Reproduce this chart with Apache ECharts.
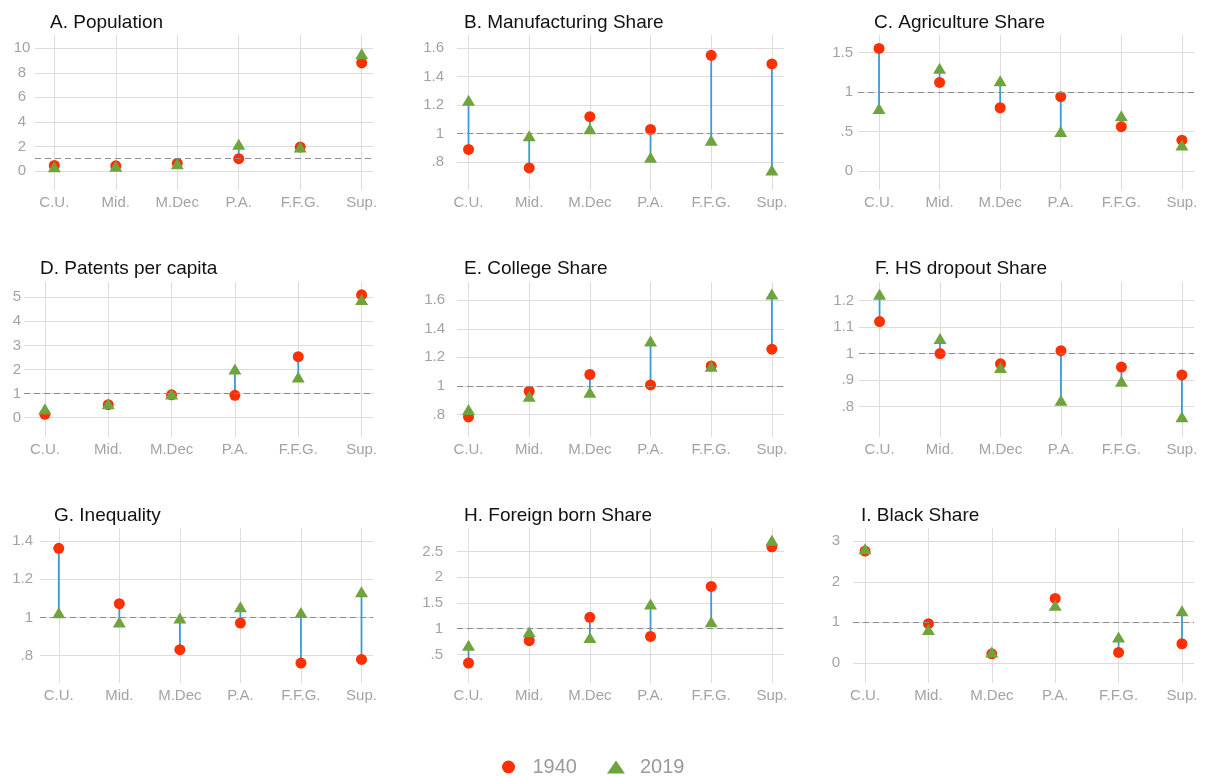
<!DOCTYPE html>
<html>
<head>
<meta charset="utf-8">
<script src="https://cdn.jsdelivr.net/npm/echarts@6/dist/echarts.min.js"></script>
<style>
  html, body { margin: 0; padding: 0; background: #ffffff; }
  #chart { width: 1205px; height: 776px; }
</style>
</head>
<body>
<div id="chart"></div>
<script>
// Regions (x categories) shared by every panel
const categories = ['C.U.', 'Mid.', 'M.Dec', 'P.A.', 'F.F.G.', 'Sup.'];
const seriesNames = ['1940', '2019'];

// Panel titles
const panelTitles = [
  'A. Population', 'B. Manufacturing Share', 'C. Agriculture Share',
  'D. Patents per capita', 'E. College Share', 'F. HS dropout Share',
  'G. Inequality', 'H. Foreign born Share', 'I. Black Share'
];

// Relative values by region, 1940 and 2019
const population1940 = [0.45, 0.42, 0.62, 1.00, 1.95, 8.80];
const population2019 = [0.35, 0.38, 0.58, 2.17, 1.95, 9.55];
const manufacturing1940 = [0.89, 0.76, 1.12, 1.03, 1.55, 1.49];
const manufacturing2019 = [1.235, 0.985, 1.035, 0.835, 0.955, 0.745];
const agriculture1940 = [1.55, 1.12, 0.80, 0.94, 0.56, 0.39];
const agriculture2019 = [0.79, 1.30, 1.14, 0.50, 0.70, 0.33];
const patents1940 = [0.14, 0.54, 0.95, 0.93, 2.53, 5.10];
const patents2019 = [0.37, 0.58, 0.98, 2.02, 1.69, 4.90];
const college1940 = [0.783, 0.963, 1.08, 1.007, 1.14, 1.257];
const college2019 = [0.835, 0.928, 0.956, 1.315, 1.138, 1.643];
const dropout1940 = [1.121, 1.00, 0.961, 1.011, 0.949, 0.919];
const dropout2019 = [1.225, 1.057, 0.947, 0.823, 0.895, 0.761];
const inequality1940 = [1.363, 1.072, 0.83, 0.97, 0.76, 0.779];
const inequality2019 = [1.025, 0.976, 0.997, 1.056, 1.026, 1.135];
const foreignBorn1940 = [0.334, 0.767, 1.22, 0.85, 1.82, 2.59];
const foreignBorn2019 = [0.68, 0.94, 0.83, 1.48, 1.136, 2.715];
const black1940 = [2.76, 0.965, 0.22, 1.59, 0.255, 0.47];
const black2019 = [2.82, 0.82, 0.265, 1.42, 0.636, 1.287];

// Y tick labels for each panel
const populationTicks = [0, 2, 4, 6, 8, 10];
const manufacturingTicks = [0.8, 1, 1.2, 1.4, 1.6];
const agricultureTicks = [0, 0.5, 1, 1.5];
const patentsTicks = [0, 1, 2, 3, 4, 5];
const collegeTicks = [0.8, 1, 1.2, 1.4, 1.6];
const dropoutTicks = [0.8, 0.9, 1, 1.1, 1.2];
const inequalityTicks = [0.8, 1, 1.2, 1.4];
const foreignBornTicks = [0.5, 1, 1.5, 2, 2.5];
const blackTicks = [0, 1, 2, 3];

// Reference level
const parityLevel = 1;

const panelData = [
  [population1940, population2019, populationTicks],
  [manufacturing1940, manufacturing2019, manufacturingTicks],
  [agriculture1940, agriculture2019, agricultureTicks],
  [patents1940, patents2019, patentsTicks],
  [college1940, college2019, collegeTicks],
  [dropout1940, dropout2019, dropoutTicks],
  [inequality1940, inequality2019, inequalityTicks],
  [foreignBorn1940, foreignBorn2019, foreignBornTicks],
  [black1940, black2019, blackTicks]
];

// Plot-region geometry and axis ranges for each panel
const layout = [
  { left: 35,  top: 35,  width: 338, xr: [-0.314, 5.184], yr: [-1.55, 11.08], lm: 13, la: 'center', tl: 45 },
  { left: 457, top: 35,  width: 327, xr: [-0.19, 5.2],    yr: [0.605, 1.693], lm: 13, la: 'right',  tl: 459 },
  { left: 858, top: 35,  width: 336, xr: [-0.347, 5.2],   yr: [-0.24, 1.72],  lm: 5,  la: 'right',  tl: 869 },
  { left: 24,  top: 282, width: 349, xr: [-0.33, 5.18],   yr: [-0.8, 5.63],   lm: 3,  la: 'right',  tl: 35 },
  { left: 457, top: 282, width: 327, xr: [-0.19, 5.2],    yr: [0.643, 1.727], lm: 12, la: 'right',  tl: 459 },
  { left: 859, top: 282, width: 335, xr: [-0.34, 5.2],    yr: [0.684, 1.271], lm: 5,  la: 'right',  tl: 870 },
  { left: 40,  top: 528, width: 333, xr: [-0.31, 5.19],   yr: [0.655, 1.47],  lm: 7,  la: 'right',  tl: 49 },
  { left: 457, top: 528, width: 327, xr: [-0.19, 5.2],    yr: [-0.054, 2.955], lm: 14, la: 'right', tl: 459 },
  { left: 853, top: 528, width: 341, xr: [-0.19, 5.19],   yr: [-0.5, 3.33],   lm: 13, la: 'right',  tl: 856 }
];
const plotHeight = 155;
const titleTops = { 35: 8, 282: 254.5, 528: 501.5 };

const FONT = '"Liberation Sans", Arial, Helvetica, sans-serif';
const RED = '#ff3000';
const GREEN = '#6fa33e';
const BLUE = '#3a9bd8';
const GRID = '#dcdcdc';
const LABEL = '#a3a3a3';

const categoryIndex = categories.map((_, i) => i);

// Stata-style number labels: drop the leading zero
function fmtNum(v) {
  const s = String(Math.round(v * 1000) / 1000);
  return s.replace(/^0\./, '.').replace(/^-0\./, '-.');
}

const grids = [], xAxes = [], yAxes = [], titles = [], series = [];

layout.forEach((g, p) => {
  const [vOld, vNew, ticks] = panelData[p];
  grids.push({ left: g.left, top: g.top, width: g.width, height: plotHeight, containLabel: false });
  titles.push({
    text: panelTitles[p], left: g.tl, top: titleTops[g.top],
    textStyle: { fontFamily: FONT, fontSize: 19, fontWeight: 'normal', color: '#111111' }
  });
  xAxes.push({
    type: 'value', gridIndex: p, min: g.xr[0], max: g.xr[1],
    axisLine: { show: false },
    axisTick: { show: false, customValues: categoryIndex },
    axisLabel: {
      customValues: categoryIndex, margin: 5, color: LABEL, fontFamily: FONT, fontSize: 15,
      formatter: v => categories[Math.round(v)] ?? ''
    },
    splitLine: { show: true, lineStyle: { color: GRID, width: 1 } }
  });
  yAxes.push({
    type: 'value', gridIndex: p, min: g.yr[0], max: g.yr[1],
    axisLine: { show: false },
    axisTick: { show: false, customValues: ticks },
    axisLabel: {
      customValues: ticks, margin: g.lm, align: g.la, color: LABEL, fontFamily: FONT, fontSize: 15,
      formatter: v => fmtNum(v)
    },
    splitLine: { show: true, lineStyle: { color: GRID, width: 1 } }
  });

  // connector between the two years, plus the parity reference line
  series.push({
    type: 'custom', xAxisIndex: p, yAxisIndex: p, z: 2, silent: true,
    data: categoryIndex.map(i => [i, vOld[i], vNew[i]]),
    encode: { x: 0, y: [1, 2] },
    renderItem: (params, api) => {
      const a = api.coord([api.value(0), api.value(1)]);
      const b = api.coord([api.value(0), api.value(2)]);
      return {
        type: 'line',
        shape: { x1: a[0], y1: a[1], x2: b[0], y2: b[1] },
        style: { stroke: BLUE, lineWidth: 1.8 }
      };
    },
    markLine: {
      silent: true, symbol: ['none', 'none'], animation: false,
      label: { show: false },
      lineStyle: { color: '#8c8c8c', type: [6, 4], width: 1.2 },
      data: [{ yAxis: parityLevel }]
    }
  });
  series.push({
    type: 'scatter', name: seriesNames[0], xAxisIndex: p, yAxisIndex: p, z: 3,
    symbol: 'circle', symbolSize: 11, itemStyle: { color: RED, opacity: 1 },
    data: categoryIndex.map(i => [i, vOld[i]])
  });
  series.push({
    type: 'scatter', name: seriesNames[1], xAxisIndex: p, yAxisIndex: p, z: 4,
    symbol: 'triangle', symbolSize: [13, 11], itemStyle: { color: GREEN, opacity: 1 },
    data: categoryIndex.map(i => [i, vNew[i]])
  });
});

const chart = echarts.init(document.getElementById('chart'), null, { renderer: 'canvas' });
chart.setOption({
  backgroundColor: '#ffffff',
  animation: false,
  title: titles,
  grid: grids,
  xAxis: xAxes,
  yAxis: yAxes,
  legend: {
    left: 497, top: 752,
    itemWidth: 18, itemHeight: 13, itemGap: 30,
    textStyle: { fontFamily: FONT, fontSize: 20, color: '#9a9a9a', padding: [0, 0, 0, 10] },
    data: [
      { name: seriesNames[0], icon: 'circle', itemStyle: { color: RED } },
      { name: seriesNames[1], icon: 'triangle', itemStyle: { color: GREEN } }
    ],
    selectedMode: false
  },
  series: series
});
</script>
</body>
</html>
